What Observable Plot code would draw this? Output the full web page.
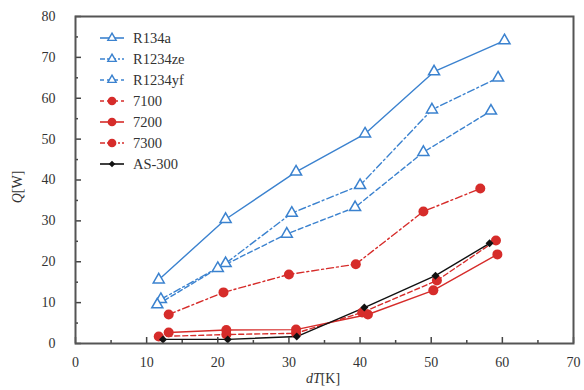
<!DOCTYPE html>
<html>
<head>
<meta charset="utf-8">
<script src="https://cdn.jsdelivr.net/npm/d3@7"></script>
<script src="https://cdn.jsdelivr.net/npm/@observablehq/plot@0.6"></script>
<style>
  html, body { margin: 0; padding: 0; background: #fff; }
  #chart { position: relative; width: 584px; height: 390px; }
</style>
</head>
<body>
<div id="chart"></div>
<script>
// ---- data ----
const seriesNames = ["R134a", "R1234ze", "R1234yf", "7100", "7200", "7300", "AS-300"];
const dT_R134a   = [11.7, 21.1, 31.0, 40.7, 50.4, 60.3];
const Q_R134a    = [15.6, 30.4, 42.0, 51.3, 66.5, 74.1];
const dT_R1234ze = [12.0, 21.1, 30.4, 40.0, 50.1, 59.4];
const Q_R1234ze  = [10.8, 19.6, 31.9, 38.7, 57.2, 65.0];
const dT_R1234yf = [11.5, 20.0, 29.7, 39.3, 48.9, 58.4];
const Q_R1234yf  = [9.5, 18.4, 26.8, 33.3, 46.8, 56.9];
const dT_7100    = [11.7, 21.2, 31.0, 40.3, 50.8, 59.1];
const Q_7100     = [1.7, 2.2, 2.5, 7.6, 15.4, 25.2];
const dT_7200    = [13.1, 21.2, 31.0, 41.1, 50.3, 59.3];
const Q_7200     = [2.7, 3.3, 3.4, 7.1, 13.0, 21.8];
const dT_7300    = [13.1, 20.8, 30.0, 39.4, 48.9, 56.9];
const Q_7300     = [7.1, 12.5, 16.9, 19.4, 32.3, 37.9];
const dT_AS300   = [12.3, 21.4, 31.1, 40.6, 50.6, 58.2];
const Q_AS300    = [1.0, 1.0, 1.7, 8.8, 16.6, 24.5];
const xTicks = [0, 10, 20, 30, 40, 50, 60, 70];
const yTicks = [0, 10, 20, 30, 40, 50, 60, 70, 80];
const xMinor = [5, 15, 25, 35, 45, 55, 65];
const yMinor = [5, 15, 25, 35, 45, 55, 65, 75];

// ---- styles ----
const BLUE = "#3b82cf", RED = "#d62c2a", BLACK = "#111111";
const styles = {
  "R134a":   {color: BLUE,  dash: null,        symbol: "triangle"},
  "R1234ze": {color: BLUE,  dash: "7,3,2,3",   symbol: "triangle"},
  "R1234yf": {color: BLUE,  dash: "5,3",       symbol: "triangle"},
  "7100":    {color: RED,   dash: "5,3",       symbol: "circle"},
  "7200":    {color: RED,   dash: null,        symbol: "circle"},
  "7300":    {color: RED,   dash: "7,3,2,3",   symbol: "circle"},
  "AS-300":  {color: BLACK, dash: null,        symbol: "diamond2"}
};
const xs = [dT_R134a, dT_R1234ze, dT_R1234yf, dT_7100, dT_7200, dT_7300, dT_AS300];
const ys = [Q_R134a, Q_R1234ze, Q_R1234yf, Q_7100, Q_7200, Q_7300, Q_AS300];
const series = seriesNames.map((name, i) => ({
  name, ...styles[name],
  data: xs[i].map((x, j) => ({x, y: ys[i][j]}))
}));

const serif = "'Liberation Serif', 'Times New Roman', serif";
const marks = [];
series.forEach(s => {
  marks.push(Plot.line(s.data, {x: "x", y: "y", stroke: s.color, strokeWidth: 1.4,
    strokeDasharray: s.dash || undefined}));
});
series.forEach(s => {
  if (s.symbol === "triangle") {
    marks.push(Plot.dot(s.data, {x: "x", y: "y", symbol: "triangle", r: 4.1, fill: "white",
      stroke: s.color, strokeWidth: 1.5}));
  } else if (s.symbol === "circle") {
    marks.push(Plot.dot(s.data, {x: "x", y: "y", symbol: "circle", r: 5, fill: s.color, stroke: "none"}));
  } else {
    marks.push(Plot.dot(s.data, {x: "x", y: "y", symbol: "diamond2", r: 3.6, fill: s.color, stroke: "none"}));
  }
});

const plot = Plot.plot({
  width: 584, height: 390,
  marginLeft: 75, marginRight: 11, marginTop: 16, marginBottom: 47,
  style: {background: "white"},
  x: {domain: [0, 70], label: null},
  y: {domain: [0, 80], label: null},
  marks: [
    ...marks,
    Plot.axisX({ticks: xTicks, tickSize: -6, text: null, stroke: "#444", strokeWidth: 1.5}),
    Plot.axisX({ticks: xMinor, tickSize: -3, text: null, stroke: "#444", strokeWidth: 1.5}),
    Plot.axisX({ticks: xTicks, tickSize: 0, tickPadding: 14, fontSize: 14, fill: "#333", label: null}),
    Plot.axisY({ticks: yTicks, tickSize: -6, text: null, stroke: "#444", strokeWidth: 1.5}),
    Plot.axisY({ticks: yMinor, tickSize: -3, text: null, stroke: "#444", strokeWidth: 1.5}),
    Plot.axisY({ticks: yTicks, tickSize: 0, tickPadding: 20, fontSize: 14, fill: "#333", label: null}),
    Plot.frame({stroke: "#555", strokeWidth: 2})
  ]
});
document.getElementById("chart").appendChild(plot);

// ---- legend and axis titles ----
const svg = d3.select(plot);
const leg = svg.append("g").attr("font-size", 14.5).attr("fill", "#333").attr("text-anchor", "start");
series.forEach((s, i) => {
  const cy = 38 + i * 21;
  const g = leg.append("g").attr("transform", `translate(0,${cy})`);
  g.append("line").attr("x1", 100).attr("x2", 124).attr("y1", 0).attr("y2", 0)
    .attr("stroke", s.color).attr("stroke-width", 1.6)
    .attr("stroke-dasharray", s.dash ? (s.dash === "5,3" ? "4,3" : "5,2,2,2") : null);
  const sym = s.symbol === "triangle" ? d3.symbolTriangle : s.symbol === "circle" ? d3.symbolCircle : d3.symbolDiamond2;
  const size = s.symbol === "triangle" ? 30 : s.symbol === "circle" ? 60 : 28;
  g.append("path").attr("d", d3.symbol(sym, size)())
    .attr("transform", "translate(112,0)")
    .attr("fill", s.symbol === "triangle" ? "white" : s.color)
    .attr("stroke", s.symbol === "triangle" ? s.color : "none").attr("stroke-width", 1.4);
  g.append("text").attr("x", 133).attr("y", 0).attr("dy", "0.35em").attr("text-anchor", "start").text(s.name);
});

const xl = svg.append("text").attr("x", 323).attr("y", 383).attr("text-anchor", "middle")
  .attr("font-size", 14).attr("fill", "#333");
xl.append("tspan").attr("font-style", "italic").text("dT");
xl.append("tspan").text("[K]");
const yl = svg.append("text").attr("transform", "translate(22,187) rotate(-90)").attr("text-anchor", "middle")
  .attr("font-size", 14).attr("fill", "#333");
yl.append("tspan").attr("font-style", "italic").text("Q");
yl.append("tspan").text("[W]");

// serif on every text node
plot.style.fontFamily = serif;
svg.selectAll("text, tspan").each(function () {
  this.setAttribute("font-family", serif);
  this.style.setProperty("font-family", serif, "important");
});
</script>
</body>
</html>
